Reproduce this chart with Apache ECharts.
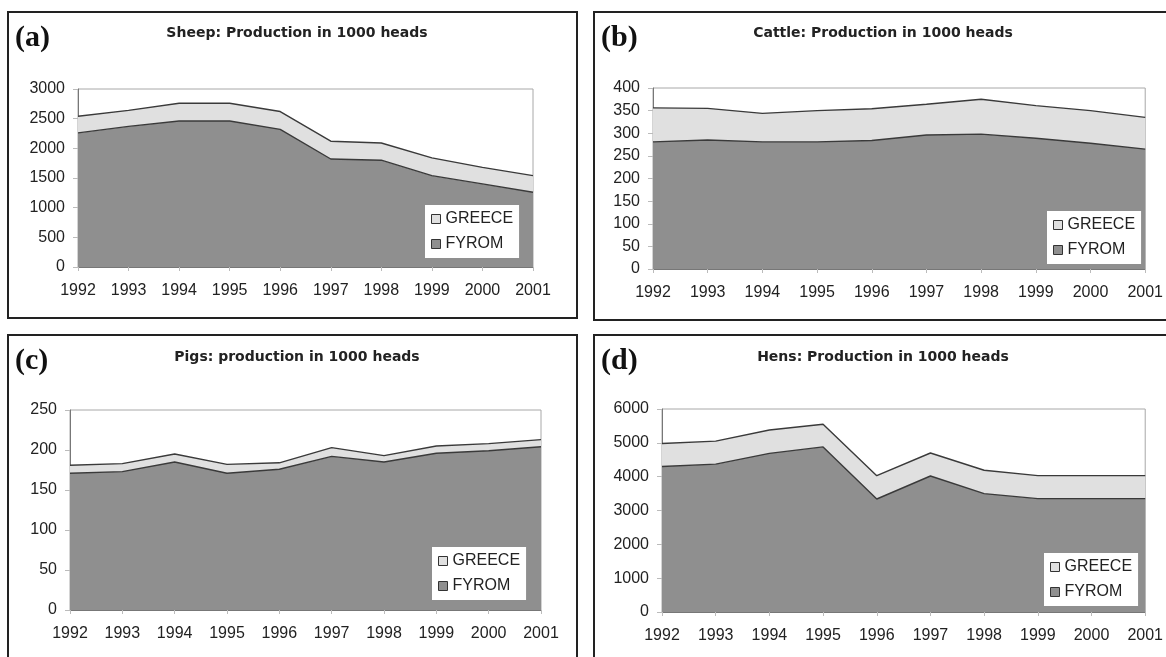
<!DOCTYPE html>
<html>
<head>
<meta charset="utf-8">
<script src="https://cdn.jsdelivr.net/npm/echarts@6/dist/echarts.min.js"></script>
<style>
html,body{margin:0;padding:0;background:#fff;}
#chart{width:1166px;height:657px;}
</style>
</head>
<body>
<div id="chart"></div>
<script>
// ---- data ----
const years = ['1992','1993','1994','1995','1996','1997','1998','1999','2000','2001'];
const seriesNames = ['GREECE','FYROM'];
const panelLabels = ['(a)','(b)','(c)','(d)'];
const panelTitles = [
  'Sheep: Production in 1000 heads',
  'Cattle: Production in 1000 heads',
  'Pigs: production in 1000 heads',
  'Hens: Production in 1000 heads'
];
const sheepFyrom  = [2260, 2370, 2460, 2460, 2320, 1820, 1800, 1540, 1400, 1260];
const sheepGreece = [280, 270, 300, 300, 300, 300, 290, 300, 280, 280];
const cattleFyrom  = [281, 285, 281, 281, 284, 296, 298, 289, 278, 265];
const cattleGreece = [75, 70, 63, 69, 70, 68, 77, 72, 72, 70];
const pigsFyrom  = [171, 173, 185, 171, 176, 192, 185, 196, 199, 204];
const pigsGreece = [10, 10, 10, 11, 8, 11, 8, 9, 9, 9];
const hensFyrom  = [4300, 4370, 4690, 4880, 3340, 4020, 3500, 3350, 3350, 3350];
const hensGreece = [680, 680, 690, 670, 690, 680, 690, 680, 680, 680];
const yMax = [3000, 400, 250, 6000];
const yStep = [500, 50, 50, 1000];

// ---- layout ----
const panels = [
  {fy: sheepFyrom, gr: sheepGreece, box:[8,12,569,306], grid:{left:78, top:89, width:455, height:178}, legend:{left:425, top:205}, titleY:21},
  {fy: cattleFyrom, gr: cattleGreece, box:[594,12,620,308], grid:{left:653, top:88, width:498, height:181}, legend:{left:1047, top:211}, titleY:21},
  {fy: pigsFyrom, gr: pigsGreece, box:[8,335,569,400], grid:{left:70, top:410, width:471, height:200}, legend:{left:432, top:547}, titleY:345},
  {fy: hensFyrom, gr: hensGreece, box:[594,335,620,400], grid:{left:662, top:409, width:486, height:203}, legend:{left:1044, top:553}, titleY:345}
];

const FY_COLOR = '#8f8f8f';
const GR_COLOR = '#e0e0e0';
const LINE_COLOR = '#3a3a3a';
const FONT = "'Liberation Sans', Arial, sans-serif";

const option = {
  backgroundColor: '#fff',
  animation: false,
  title: [], grid: [], xAxis: [], yAxis: [], series: [], legend: [], graphic: []
};

panels.forEach((p, i) => {
  const [bx, by, bw, bh] = p.box;
  option.graphic.push({
    type: 'rect', shape: {x: bx, y: by, width: bw, height: bh},
    style: {fill: 'none', stroke: '#222', lineWidth: 2}, z: 100
  });
  option.graphic.push({
    type: 'text', x: bx + 7, y: by + 26,
    style: {text: panelLabels[i], font: "bold 30px 'Liberation Serif', 'Times New Roman', serif",
            fill: '#111', textVerticalAlign: 'middle'}, z: 100
  });
  option.title.push({
    text: panelTitles[i],
    left: bx + 284, top: p.titleY, textAlign: 'center',
    textStyle: {fontFamily: "'DejaVu Sans', sans-serif", fontWeight: 'bold', fontSize: 14, color: '#222'}
  });
  option.grid.push(Object.assign({show: true, borderColor: '#a8a8a8', borderWidth: 1, backgroundColor: '#fff', containLabel: false}, p.grid));
  option.xAxis.push({
    type: 'category', gridIndex: i, data: years, boundaryGap: false,
    axisLine: {show: true, lineStyle: {color: '#777', width: 1}},
    axisTick: {show: true, length: 4, lineStyle: {color: '#bbb'}},
    axisLabel: {interval: 0, margin: 16, fontFamily: FONT, fontSize: 16, color: '#222'},
    splitLine: {show: false}
  });
  option.yAxis.push({
    type: 'value', gridIndex: i, min: 0, max: yMax[i], interval: yStep[i],
    axisLine: {show: true, lineStyle: {color: '#777', width: 1}},
    axisTick: {show: true, length: 5, lineStyle: {color: '#bbb'}},
    axisLabel: {margin: 13, fontFamily: FONT, fontSize: 16, color: '#222', formatter: v => String(v)},
    splitLine: {show: false}
  });
  option.series.push({
    name: 'FYROM', type: 'line', xAxisIndex: i, yAxisIndex: i, stack: 'p' + i,
    data: p.fy, symbol: 'none', smooth: false,
    lineStyle: {color: LINE_COLOR, width: 1.4},
    itemStyle: {color: FY_COLOR},
    areaStyle: {color: FY_COLOR, opacity: 1}
  });
  option.series.push({
    name: 'GREECE', type: 'line', xAxisIndex: i, yAxisIndex: i, stack: 'p' + i,
    data: p.gr, symbol: 'none', smooth: false,
    lineStyle: {color: LINE_COLOR, width: 1.4},
    itemStyle: {color: GR_COLOR},
    areaStyle: {color: GR_COLOR, opacity: 1}
  });
  option.legend.push({
    left: p.legend.left, top: p.legend.top, orient: 'vertical',
    backgroundColor: '#fff', padding: [6, 6, 6, 6],
    itemWidth: 9, itemHeight: 9, itemGap: 9, itemTextGap: 5, icon: 'rect',
    selectedMode: false,
    textStyle: {fontFamily: FONT, fontSize: 16, color: '#222', lineHeight: 16},
    data: [
      {name: seriesNames[0], itemStyle: {color: GR_COLOR, borderColor: '#333', borderWidth: 1}},
      {name: seriesNames[1], itemStyle: {color: FY_COLOR, borderColor: '#333', borderWidth: 1}}
    ],
    z: 10
  });
});

const chart = echarts.init(document.getElementById('chart'), null, {renderer: 'canvas'});
chart.setOption(option);
</script>
</body>
</html>
